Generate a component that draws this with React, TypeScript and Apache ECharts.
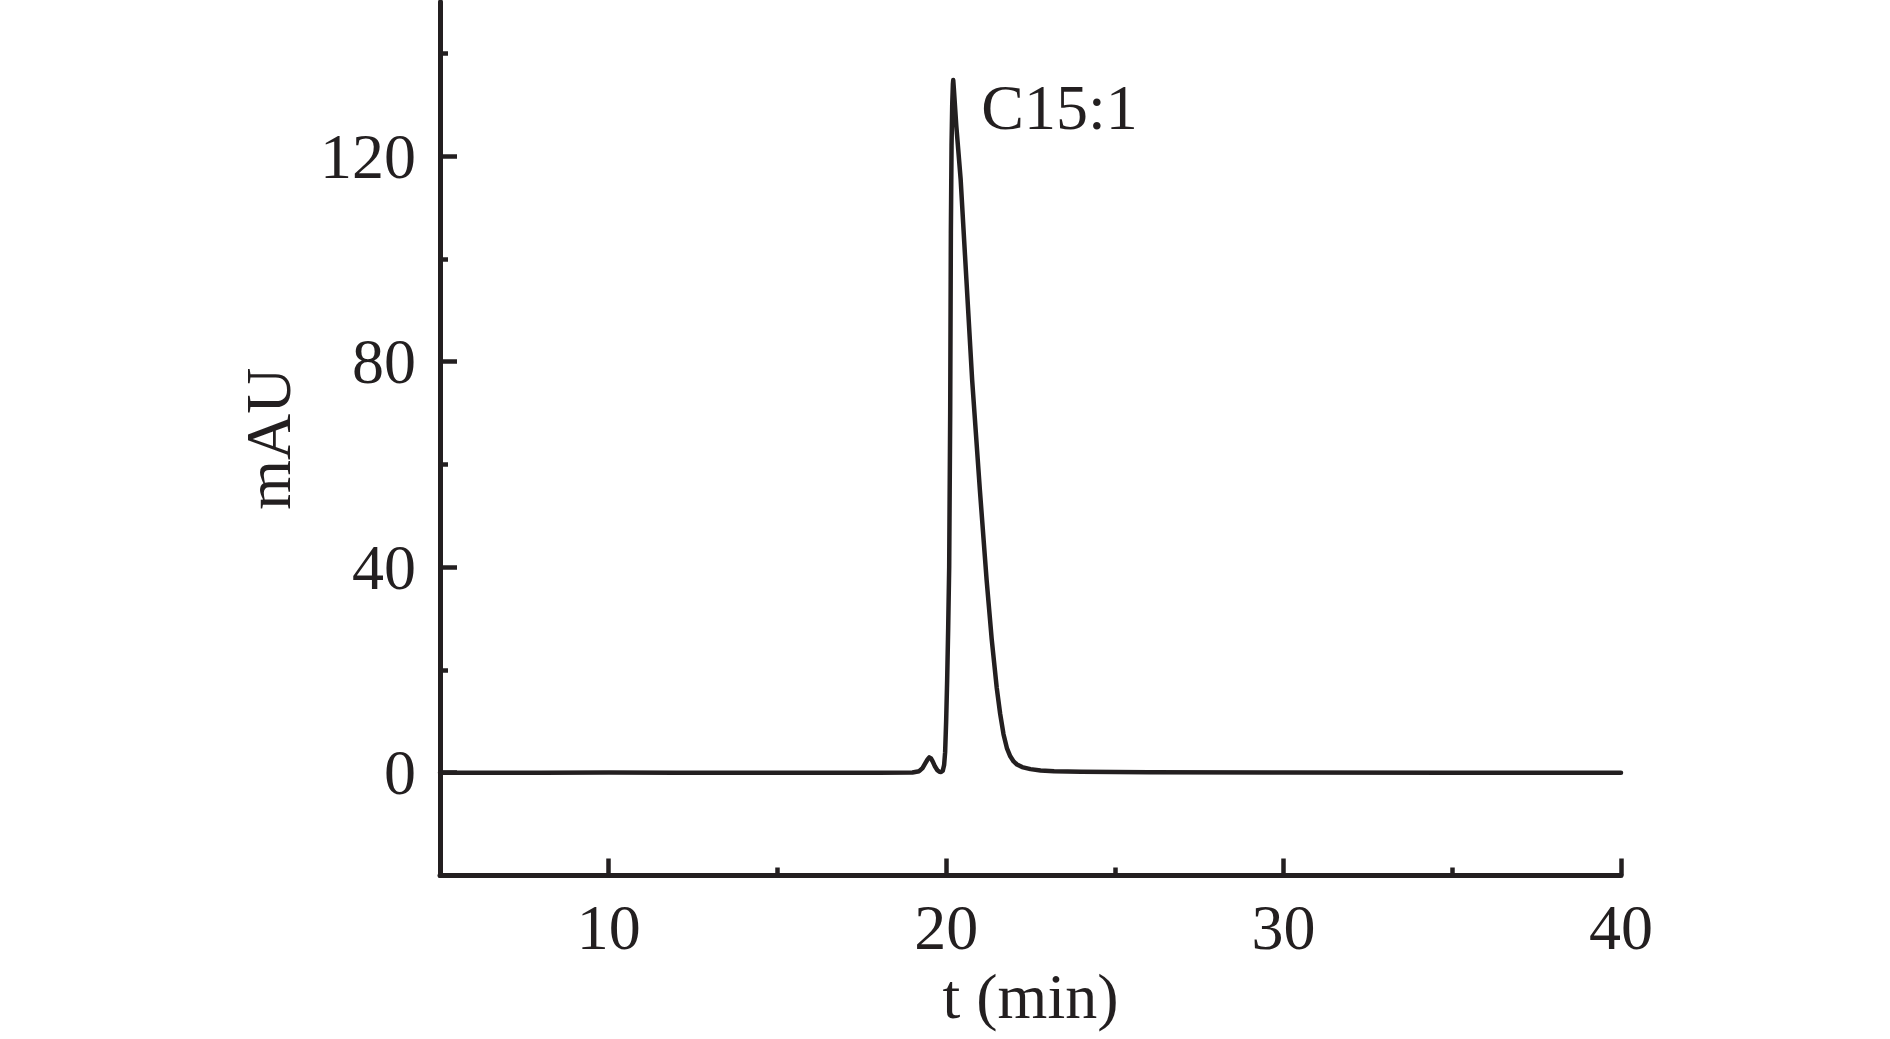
import React, { useEffect, useRef } from "react";
import * as echarts from "echarts";

// retention time (min)
const times = [
  5, 6, 8, 10, 12, 14, 16, 18, 19.0, 19.2, 19.3, 19.38, 19.45, 19.5, 19.55, 19.6, 19.67,
  19.74, 19.8, 19.85, 19.9, 19.94, 19.97, 20.0, 20.03, 20.06, 20.09, 20.12, 20.14, 20.16,
  20.18, 20.2, 20.21, 20.23, 20.3, 20.43, 20.6, 20.77, 21.0, 21.2, 21.35, 21.5, 21.6, 21.7,
  21.8, 21.9, 22.0, 22.1, 22.25, 22.5, 22.8, 23.2, 24, 26, 30, 35, 40,
];
// absorbance (mAU)
const values = [
  0, 0, 0, 0.05, 0, 0, 0, 0, 0.05, 0.3, 0.9, 1.8, 2.6, 3.0, 2.8, 2.2, 1.2,
  0.5, 0.2, 0.15, 0.4, 1.5, 4, 10, 18, 28, 40, 70, 105, 122,
  130, 134, 134.8, 133, 126, 115.5, 96, 76.5, 55, 37.5, 26, 16.5, 11.5, 7.5,
  4.8, 3.2, 2.2, 1.6, 1.1, 0.7, 0.45, 0.3, 0.2, 0.1, 0.05, 0, 0,
];
const peakLabel = "C15:1";
const yTickValues = [0, 40, 80, 120];
const yMinorTickValues = [20, 60, 100, 140];
const xTickValues = [10, 20, 30, 40];
const xMinorTickValues = [15, 25, 35];
const xName = "t (min)";
const yName = "mAU";

const INK = "#231f20";
const FONT = "'Liberation Serif', 'Times New Roman', serif";

export default function App() {
  const ref = useRef<HTMLDivElement>(null);
  useEffect(() => {
    const chart = echarts.init(ref.current!, null, { renderer: "svg" });
    const peakIdx = values.indexOf(Math.max(...values));
    const data = times.map((t, i) => [t, values[i]]);
    const textStyle = { fontFamily: FONT, fontSize: 64, color: INK };
    chart.setOption({
      animation: false,
      backgroundColor: "#ffffff",
      grid: { left: 440, right: 269, top: 2, bottom: 163.5, containLabel: false },
      xAxis: [
        {
          type: "value",
          min: 5,
          max: 40,
          position: "bottom",
          axisLine: { show: true, onZero: false, lineStyle: { color: INK, width: 5 } },
          axisTick: {
            show: true,
            inside: true,
            length: 17,
            customValues: xTickValues,
            lineStyle: { color: INK, width: 4.5 },
          },
          axisLabel: { show: true, customValues: xTickValues, margin: 20, ...textStyle },
          splitLine: { show: false },
          name: xName,
          nameLocation: "middle",
          nameGap: 88,
          nameTextStyle: textStyle,
        },
        {
          type: "value",
          min: 5,
          max: 40,
          position: "bottom",
          offset: 0,
          axisLine: { show: false, onZero: false },
          axisTick: {
            show: true,
            inside: true,
            length: 8,
            customValues: xMinorTickValues,
            lineStyle: { color: INK, width: 4.5 },
          },
          axisLabel: { show: false },
          splitLine: { show: false },
        },
      ],
      yAxis: [
        {
          type: "value",
          min: -20,
          max: 150,
          position: "left",
          axisLine: { show: true, onZero: false, lineStyle: { color: INK, width: 5 } },
          axisTick: {
            show: true,
            inside: true,
            length: 17,
            customValues: yTickValues,
            lineStyle: { color: INK, width: 4.5 },
          },
          axisLabel: { show: true, customValues: yTickValues, margin: 24, ...textStyle },
          splitLine: { show: false },
          name: yName,
          nameLocation: "middle",
          nameGap: 140,
          nameRotate: 90,
          nameTextStyle: textStyle,
        },
        {
          type: "value",
          min: -20,
          max: 150,
          position: "left",
          offset: 0,
          axisLine: { show: false, onZero: false },
          axisTick: {
            show: true,
            inside: true,
            length: 8,
            customValues: yMinorTickValues,
            lineStyle: { color: INK, width: 4.5 },
          },
          axisLabel: { show: false },
          splitLine: { show: false },
        },
      ],
      series: [
        {
          type: "line",
          xAxisIndex: 0,
          yAxisIndex: 0,
          data,
          showSymbol: false,
          symbol: "none",
          smooth: false,
          lineStyle: { color: INK, width: 4.5, cap: "round", join: "round" },
          markPoint: {
            symbol: "circle",
            symbolSize: 0,
            silent: true,
            data: [{ coord: [times[peakIdx], values[peakIdx]] }],
            label: {
              show: true,
              formatter: peakLabel,
              position: "right",
              distance: 28,
              offset: [0, 27],
              ...textStyle,
            },
          },
        },
      ],
    });
    return () => chart.dispose();
  }, []);
  return (
    <div
      ref={ref}
      style={{ position: "absolute", left: 0, top: 0, width: 1890, height: 1039 }}
    />
  );
}
